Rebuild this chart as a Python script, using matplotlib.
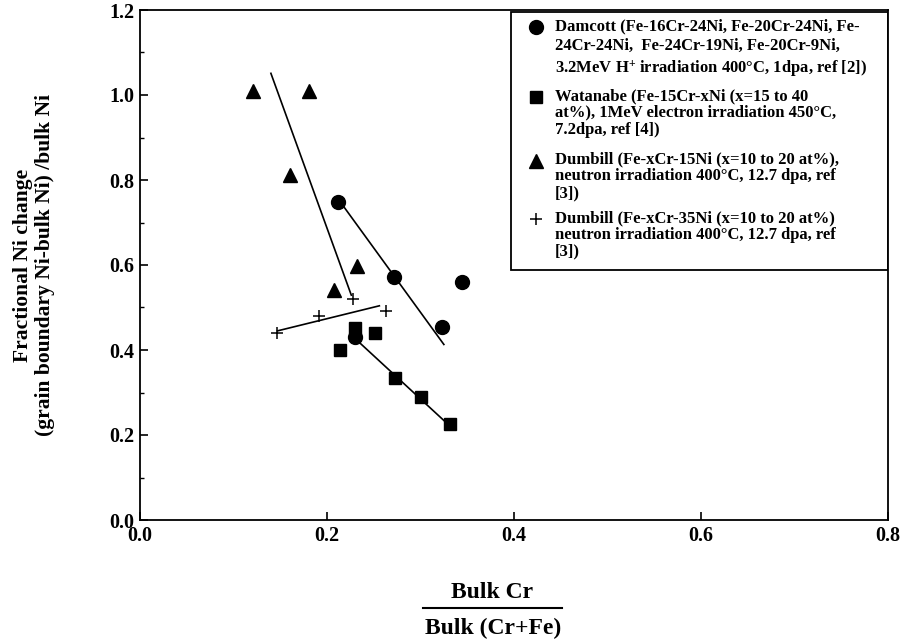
import numpy as np
import matplotlib
matplotlib.use("Agg")
import matplotlib.pyplot as plt
from matplotlib.lines import Line2D
from matplotlib.patches import Rectangle
from matplotlib.ticker import MultipleLocator

plt.rcParams['font.family'] = ['Liberation Serif', 'DejaVu Serif']
plt.rcParams['font.weight'] = 'bold'
plt.rcParams['mathtext.fontset'] = 'custom'
plt.rcParams['mathtext.rm'] = 'Liberation Serif:bold'
plt.rcParams['mathtext.bf'] = 'Liberation Serif:bold'
plt.rcParams['mathtext.default'] = 'bf'

# Damcott (circles)
circ_x = [0.212, 0.272, 0.323, 0.344, 0.230]
circ_y = [0.749, 0.571, 0.453, 0.559, 0.430]
circ_fit_x = [0.218, 0.325]
circ_fit_y = [0.737, 0.413]

# Watanabe (squares)
sq_x = [0.214, 0.230, 0.251, 0.273, 0.300, 0.332]
sq_y = [0.400, 0.451, 0.441, 0.333, 0.290, 0.226]
sq_fit_x = [0.230, 0.330]
sq_fit_y = [0.427, 0.224]

# Dumbill Fe-xCr-15Ni (triangles)
tri_x = [0.121, 0.181, 0.160, 0.232, 0.208]
tri_y = [1.009, 1.010, 0.812, 0.598, 0.541]
tri_fit_x = [0.140, 0.226]
tri_fit_y = [1.051, 0.529]

# Dumbill Fe-xCr-35Ni (plus)
plus_x = [0.147, 0.191, 0.228, 0.263]
plus_y = [0.441, 0.481, 0.519, 0.492]
plus_fit_x = [0.147, 0.256]
plus_fit_y = [0.445, 0.504]

legend_texts = [
    "Damcott (Fe-16Cr-24Ni, Fe-20Cr-24Ni, Fe-\n24Cr-24Ni,  Fe-24Cr-19Ni, Fe-20Cr-9Ni,\n3.2MeV H$^{+}$ irradiation 400°C, 1dpa, ref [2])",
    "Watanabe (Fe-15Cr-xNi (x=15 to 40\nat%), 1MeV electron irradiation 450°C,\n7.2dpa, ref [4])",
    "Dumbill (Fe-xCr-15Ni (x=10 to 20 at%),\nneutron irradiation 400°C, 12.7 dpa, ref\n[3])",
    "Dumbill (Fe-xCr-35Ni (x=10 to 20 at%)\nneutron irradiation 400°C, 12.7 dpa, ref\n[3])",
]

fig = plt.figure(figsize=(9.01, 6.43), dpi=100)
ax = fig.add_axes([140/901, 123/643, 748/901, 510/643])

ax.plot(circ_fit_x, circ_fit_y, color='black', lw=1.2)
ax.plot(sq_fit_x, sq_fit_y, color='black', lw=1.2)
ax.plot(tri_fit_x, tri_fit_y, color='black', lw=1.2)
ax.plot(plus_fit_x, plus_fit_y, color='black', lw=1.2)

ax.plot(circ_x, circ_y, 'o', color='black', ms=10)
ax.plot(sq_x, sq_y, 's', color='black', ms=9)
ax.plot(tri_x, tri_y, '^', color='black', ms=10.5)
ax.plot(plus_x, plus_y, '+', color='black', ms=8, mew=1.1)

ax.set_xlim(0, 0.8)
ax.set_ylim(0, 1.2)
ax.xaxis.set_major_locator(MultipleLocator(0.2))
ax.yaxis.set_major_locator(MultipleLocator(0.2))
ax.yaxis.set_minor_locator(MultipleLocator(0.1))
ax.xaxis.set_major_formatter(matplotlib.ticker.FormatStrFormatter('%.1f'))
ax.yaxis.set_major_formatter(matplotlib.ticker.FormatStrFormatter('%.1f'))
ax.tick_params(axis='both', which='major', direction='in', length=6, width=1.2,
               labelsize=14.5, pad=4)
ax.tick_params(axis='y', which='minor', direction='in', length=3, width=1)
for s in ax.spines.values():
    s.set_linewidth(1.3)

# legend box
ax.add_patch(Rectangle((0.496, 0.490), 0.504, 0.506, transform=ax.transAxes,
                       fill=False, lw=1.3, ec='black', zorder=5))
markers = [('o', 10, None), ('s', 9, None), ('^', 10.5, None), ('+', 8, 1.1)]
marker_y = [0.967, 0.829, 0.704, 0.590]
text_top = [0.984, 0.847, 0.722, 0.608]
spacing = [1.3, 1.07, 1.05, 1.07]
for (m, ms, mew), my, ty, ls, txt in zip(markers, marker_y, text_top, spacing, legend_texts):
    kw = {'mew': mew} if mew else {}
    ax.plot([0.530], [my], m, color='black', ms=ms, transform=ax.transAxes,
            clip_on=False, **kw)
    ax.text(0.555, ty, txt, transform=ax.transAxes, fontsize=12, va='top',
            ha='left', linespacing=ls)

fig.text(34/901, 1 - 265/643, "Fractional Ni change\n(grain boundary Ni-bulk Ni) /bulk Ni",
         rotation=90, ha='center', va='center', fontsize=15.5, multialignment='center',
         linespacing=1.15)

fig.text(492/901, 1 - 592/643, "Bulk Cr", ha='center', va='center', fontsize=17)
fig.text(493/901, 1 - 628/643, "Bulk (Cr+Fe)", ha='center', va='center', fontsize=17)
fig.add_artist(Line2D([423/901, 562/901], [1 - 608/643, 1 - 608/643],
                      transform=fig.transFigure, color='black', lw=1.5))

fig.savefig("out.png", dpi=100)
